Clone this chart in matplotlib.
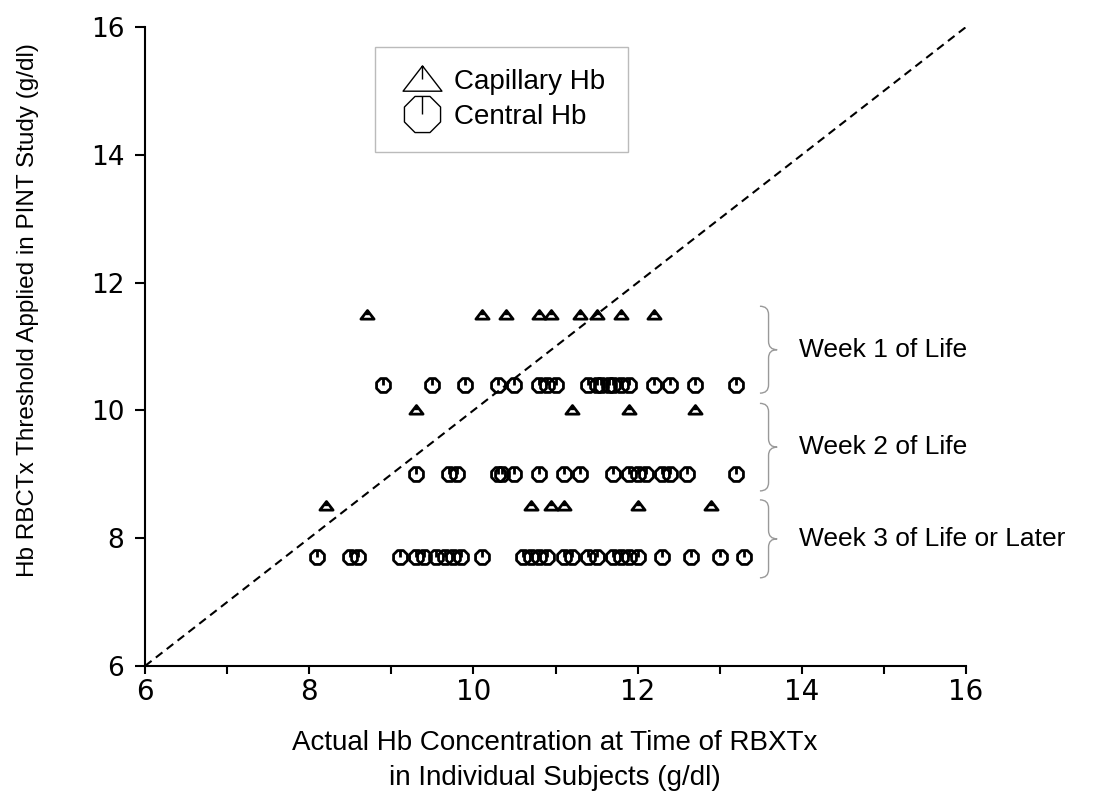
import numpy as np
import matplotlib
matplotlib.use('Agg')
import matplotlib.pyplot as plt
from matplotlib.path import Path
from matplotlib.patches import PathPatch
from matplotlib.lines import Line2D

# thresholds applied (y) for each week group
cap_thresh = [11.5, 10.0, 8.5]
cen_thresh = [10.4, 9.0, 7.7]

# actual Hb values (x) per group
cap_w1 = [8.7, 10.1, 10.4, 10.8, 10.95, 11.3, 11.5, 11.8, 12.2]
cap_w2 = [9.3, 11.2, 11.9, 12.7]
cap_w3 = [8.2, 10.7, 10.95, 11.1, 12.0, 12.9]
cen_w1 = [8.9, 9.5, 9.9, 10.3, 10.5, 10.8, 10.9, 11.0, 11.4, 11.5, 11.55, 11.65,
          11.7, 11.8, 11.9, 12.2, 12.4, 12.7, 13.2]
cen_w2 = [9.3, 9.7, 9.8, 10.3, 10.35, 10.5, 10.8, 11.1, 11.3, 11.7, 11.9, 12.0,
          12.1, 12.3, 12.4, 12.6, 13.2]
cen_w3 = [8.1, 8.5, 8.6, 9.1, 9.3, 9.4, 9.55, 9.65, 9.75, 9.85, 10.1, 10.6, 10.7,
          10.8, 10.9, 11.1, 11.2, 11.4, 11.5, 11.7, 11.8, 11.9, 12.0, 12.3, 12.65,
          13.0, 13.3]

week_labels = ['Week 1 of Life', 'Week 2 of Life', 'Week 3 of Life or Later']
x_ticks = [6, 8, 10, 12, 14, 16]
y_ticks = [6, 8, 10, 12, 14, 16]

# custom markers: octagon / triangle with a tick from the top to the centre
ang = np.deg2rad(22.5 + 45 * np.arange(8))
oct_v = [(np.cos(a), np.sin(a)) for a in ang]
oct_path = Path(oct_v + [oct_v[0], (0, np.sin(np.deg2rad(67.5))), (0, 0)],
                [Path.MOVETO] + [Path.LINETO] * 7 + [Path.CLOSEPOLY, Path.MOVETO, Path.LINETO])
tri_path = Path([(-1, -0.55), (1, -0.55), (0, 0.75), (-1, -0.55), (0, 0.75), (0, 0.05)],
                [Path.MOVETO, Path.LINETO, Path.LINETO, Path.CLOSEPOLY, Path.MOVETO, Path.LINETO])

txt_font = 'Liberation Sans'

fig = plt.figure(figsize=(10.96, 7.93), dpi=100)
ax = fig.add_axes([145 / 1096, 1 - 666 / 793, (966 - 145) / 1096, (666 - 27) / 793])

ax.plot([6, 16], [6, 16], color='black', ls=(0, (4, 2.6)), lw=1.5)

for y, xs in zip(cen_thresh, [cen_w1, cen_w2, cen_w3]):
    ax.plot(xs, [y] * len(xs), ls='none', marker=oct_path, ms=10, mew=2,
            mfc='none', mec='black')
for y, xs in zip(cap_thresh, [cap_w1, cap_w2, cap_w3]):
    ax.plot(xs, [y] * len(xs), ls='none', marker=tri_path, ms=9.5, mew=2,
            mfc='none', mec='black')

ax.set_xlim(6, 16)
ax.set_ylim(6, 16)
ax.set_xticks(x_ticks)
ax.set_xticks([7, 9, 11, 13, 15], minor=True)
ax.set_yticks(y_ticks)
ax.tick_params(axis='x', which='both', direction='out', length=6, width=1.5,
               labelsize=20, pad=3)
ax.tick_params(axis='y', direction='out', length=7, width=1.5, labelsize=19, pad=8)
for s in ['top', 'right']:
    ax.spines[s].set_visible(False)
for s in ['left', 'bottom']:
    ax.spines[s].set_linewidth(1.5)

# braces grouping the weeks
brace_spans = [(11.63, 10.27), (10.11, 8.74), (8.60, 7.38)]
bx, bw, r = 13.49, 0.21, 0.13
for (yt, yb), lab in zip(brace_spans, week_labels):
    ym = (yt + yb) / 2
    xm = bx + bw / 2
    verts = [(bx, yt), (xm, yt), (xm, yt - r), (xm, ym + r), (xm, ym), (bx + bw, ym),
             (xm, ym), (xm, ym - r), (xm, yb + r), (xm, yb), (bx, yb)]
    codes = [Path.MOVETO, Path.CURVE3, Path.CURVE3, Path.LINETO, Path.CURVE3, Path.CURVE3,
             Path.CURVE3, Path.CURVE3, Path.LINETO, Path.CURVE3, Path.CURVE3]
    ax.add_patch(PathPatch(Path(verts, codes), fc='none', ec='#999999', lw=1, clip_on=False))
    ax.text(13.97, ym, lab, ha='left', va='center', fontsize=19, family=txt_font)

handles = [Line2D([], [], ls='none', marker=tri_path, ms=28, mew=1, mfc='none', mec='black'),
           Line2D([], [], ls='none', marker=oct_path, ms=26, mew=1, mfc='none', mec='black')]
leg = ax.legend(handles, ['Capillary Hb', 'Central Hb'], loc='upper left',
                bbox_to_anchor=(375 / 1096, 1 - 47 / 793), bbox_transform=fig.transFigure,
                borderaxespad=0, fancybox=False, prop={'family': txt_font, 'size': 20},
                handlelength=1.8, handletextpad=0.25, labelspacing=0.3, borderpad=0.8)
leg.get_frame().set_edgecolor('#aaaaaa')
leg.get_frame().set_linewidth(1)

fig.text(28 / 1096, 1 - 310 / 793, 'Hb RBCTx Threshold Applied in PINT Study (g/dl)',
         rotation=90, ha='center', va='center', fontsize=17.5, family=txt_font)
fig.text(555 / 1096, 1 - 743 / 793, 'Actual Hb Concentration at Time of RBXTx',
         ha='center', va='center', fontsize=20, family=txt_font)
fig.text(555 / 1096, 1 - 778 / 793, 'in Individual Subjects (g/dl)',
         ha='center', va='center', fontsize=20, family=txt_font)

fig.savefig('out.png', dpi=100)
